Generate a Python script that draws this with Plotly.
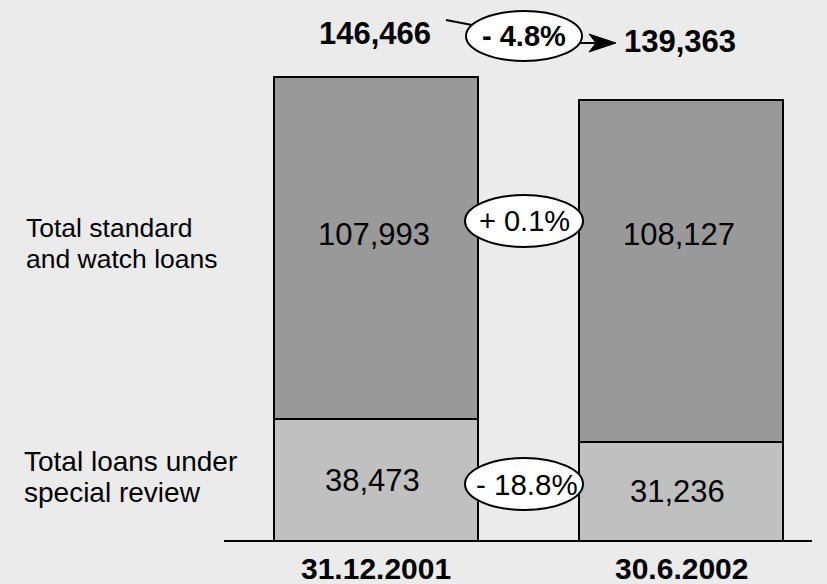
import plotly.graph_objects as go

# Loan portfolio composition (values)
dates = ["31.12.2001", "30.6.2002"]
special_review = [38473, 31236]
standard_watch = [107993, 108127]
totals = [146466, 139363]
change_total = "- 4.8%"
change_standard = "+ 0.1%"
change_special = "- 18.8%"
row_labels = [["Total standard", "and watch loans"], ["Total loans under", "special review"]]

W, H = 827, 584
PLOT_BOTTOM = 541  # pixel row of the baseline (plot area bottom)
FONT = "Arial, Liberation Sans, sans-serif"
BG = "#ebebeb"

x_pos = [0, 1]
px_per_unit = 305.0
x_left = -376 / px_per_unit
x_right = (W - 376) / px_per_unit
bar_w = 204 / px_per_unit


def pxx(p):
    return p / W


def pxy(p):
    return (PLOT_BOTTOM - p) / PLOT_BOTTOM


def label(x, y, text, size, xref="paper", yref="paper", xanchor="center", **kw):
    return dict(x=x, y=y, xref=xref, yref=yref, text=text, showarrow=False,
                xanchor=xanchor, yanchor="middle",
                font=dict(family=FONT, size=size, color="black"), **kw)


fig = go.Figure()
fig.add_trace(go.Bar(
    x=x_pos, y=special_review, width=bar_w,
    marker=dict(color="#c0c0c0", line=dict(color="black", width=2)),
    hoverinfo="skip",
))
fig.add_trace(go.Bar(
    x=x_pos, y=standard_watch, width=bar_w,
    marker=dict(color="#999999", line=dict(color="black", width=2)),
    hoverinfo="skip",
))

annotations = []

# Segment values
for i, xv in enumerate(x_pos):
    annotations.append(label(xv - 0.012, special_review[i] / 2, f"{special_review[i]:,}", 31,
                             xref="x", yref="y"))
    annotations.append(label(xv - 0.008, pxy(234), f"{standard_watch[i]:,}", 31,
                             xref="x"))

# Totals above the bars
annotations.append(label(pxx(375), pxy(33), f"<b>{totals[0]:,}</b>", 31))
annotations.append(label(pxx(680), pxy(42), f"<b>{totals[1]:,}</b>", 31))

# Date labels under the baseline
for i, xv in enumerate(x_pos):
    annotations.append(label(xv, pxy(568), f"<b>{dates[i]}</b>", 30, xref="x"))

# Row labels on the left, one line at a time
row_style = [(24, [228, 259], 26.5), (22, [461, 492], 28)]
for lines, (lx, ys, size) in zip(row_labels, row_style):
    for line, yy in zip(lines, ys):
        annotations.append(label(pxx(lx), pxy(yy), line, size, xanchor="left"))

shapes = []
# Connector from the old total to the bubble
shapes.append(dict(
    type="line", xref="paper", yref="paper",
    x0=pxx(446), y0=pxy(20), x1=pxx(472), y1=pxy(25),
    line=dict(color="black", width=2),
))

# Arrow from the bubble to the new total: shaft plus a notched dart head
shapes.append(dict(
    type="line", xref="paper", yref="paper",
    x0=pxx(580), y0=pxy(43), x1=pxx(597), y1=pxy(43),
    line=dict(color="black", width=2),
))
head = [(616, 43), (589, 34), (596, 43), (589, 52)]
path = "M " + " L ".join(f"{pxx(px):.5f},{pxy(py):.5f}" for px, py in head) + " Z"
shapes.append(dict(
    type="path", xref="paper", yref="paper", path=path,
    fillcolor="black", line=dict(color="black", width=1),
))

# Change bubbles: text, centre x/y, radii, bold, font size, text x-offset
bubbles = [
    (change_total, 524, 36, 58, 25, True, 29, 0),
    (change_standard, 524, 221, 59, 26, False, 29, 0),
    (change_special, 524, 484, 59, 26, False, 29.5, 3),
]
for text, cx, cy, rx, ry, bold, size, dx in bubbles:
    shapes.append(dict(
        type="circle", xref="paper", yref="paper",
        x0=pxx(cx - rx), x1=pxx(cx + rx), y0=pxy(cy + ry), y1=pxy(cy - ry),
        fillcolor="white", line=dict(color="black", width=2), layer="above",
    ))
    annotations.append(label(pxx(cx + dx), pxy(cy), f"<b>{text}</b>" if bold else text, size))

# Baseline
shapes.append(dict(
    type="line", xref="paper", yref="paper",
    x0=pxx(224), x1=pxx(812), y0=0, y1=0,
    line=dict(color="black", width=2), layer="above",
))

fig.update_layout(
    width=W, height=H,
    margin=dict(l=0, r=0, t=0, b=H - PLOT_BOTTOM, pad=0),
    paper_bgcolor=BG, plot_bgcolor=BG,
    barmode="stack", showlegend=False,
    xaxis=dict(range=[x_left, x_right], visible=False, fixedrange=True),
    yaxis=dict(range=[0, totals[0] * PLOT_BOTTOM / 464], visible=False, fixedrange=True),
    annotations=annotations, shapes=shapes,
)

fig.write_html("out.html", config={"displayModeBar": False})
